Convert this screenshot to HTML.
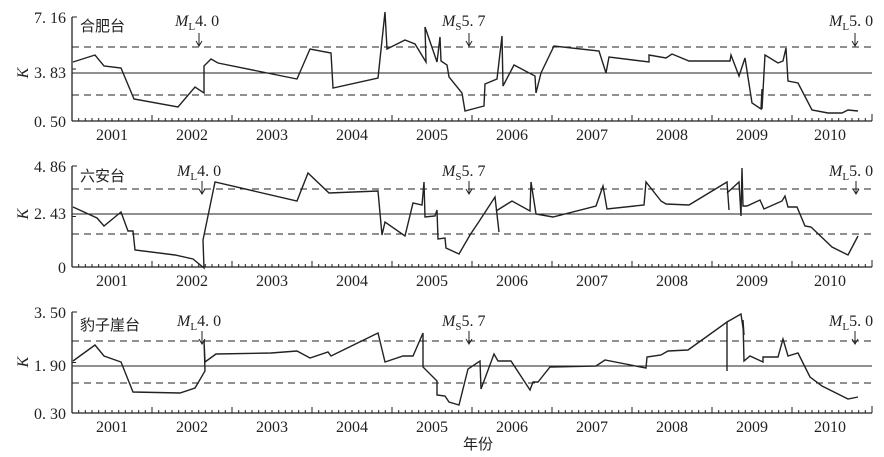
<!DOCTYPE html>
<html><head><meta charset="utf-8"><style>
body{margin:0;background:#fff}
svg{display:block}
text{font-family:"Liberation Serif","Noto Serif CJK SC",serif;fill:#222}
.cn{font-family:"Noto Sans CJK SC",sans-serif;font-size:15px}
.t{font-size:16px}
.y{font-size:16px}
</style></head><body>
<svg width="884" height="457" viewBox="0 0 884 457" xmlns="http://www.w3.org/2000/svg">
<defs>
<g id="ticks">
</g>
</defs>
<g stroke="#222" fill="none" stroke-width="1.3">
<!-- Panel 1 -->
<line x1="72" y1="121" x2="872" y2="121"/><line x1="72" y1="17" x2="72" y2="121"/>
<line x1="72" y1="73" x2="872" y2="73" stroke-width="1"/>
<line x1="72" y1="47" x2="872" y2="47" stroke-dasharray="7,5" stroke-width="1"/>
<line x1="72" y1="95" x2="872" y2="95" stroke-dasharray="7,5" stroke-width="1"/>
<polyline stroke-width="1.4" points="73,62 95,55 104,66 121,68 134,99 178,107 195,87 204,93 204,66 211,59 218,63 297,79 310,49 331,53 333,88 378,78 385,12 387,49 405,40 415,44 426,62 425,27 437,62 440,37 441,61 447,65 449,77 462,93 465,111 484,106 485,84 497,79 502,36 503,86 514,65 535,76 536,93 541,73 554,46 599,51 606,73 609,57 649,62 649,55 666,58 672,54 689,61 730,61 731,55 739,76 745,58 752,103 761,109 762,89 762,109 765,55 778,63 783,61 786,48 788,81 798,83 812,110 828,113 842,113 848,110 858,111"/>
<!-- Panel 2 -->
<line x1="72" y1="267" x2="872" y2="267"/><line x1="72" y1="166" x2="72" y2="267"/>
<line x1="72" y1="214" x2="872" y2="214" stroke-width="1"/>
<line x1="72" y1="189" x2="872" y2="189" stroke-dasharray="7,5" stroke-width="1"/>
<line x1="72" y1="234" x2="872" y2="234" stroke-dasharray="7,5" stroke-width="1"/>
<polyline stroke-width="1.4" points="73,207 97,218 104,226 121,212 128,231 133,231 135,250 175,255 193,259 204,268 203,240 215,182 297,201 308,173 329,193 378,191 382,235 385,222 405,236 413,203 422,205 424,182 425,217 435,216 437,210 438,239 445,238 446,248 459,254 470,235 480,220 495,197 499,232"/>
<polyline stroke-width="1.4" points="496,211 512,201 530,211 531,182 536,214 553,217 596,206 603,186 607,209 644,205 646,182 661,201 666,204 689,205 727,182 729,210"/>
<polyline stroke-width="1.4" points="727,193 739,182 741,216 742,168 743,206 747,206 760,200 764,209 782,201 785,196 788,207 797,207 805,226 811,227 832,247 848,255 858,236"/>
<!-- Panel 3 -->
<line x1="72" y1="413" x2="872" y2="413"/><line x1="72" y1="312" x2="72" y2="413"/>
<line x1="72" y1="366" x2="872" y2="366" stroke-width="1"/>
<line x1="72" y1="341" x2="872" y2="341" stroke-dasharray="7,5" stroke-width="1"/>
<line x1="72" y1="383" x2="872" y2="383" stroke-dasharray="7,5" stroke-width="1"/>
<polyline stroke-width="1.4" points="73,361 95,345 104,356 121,362 133,392 180,393 195,388 205,371 204,340 205,362 216,354 271,353 297,351 310,358 328,352 331,356 378,333 385,362 403,356 413,356 423,333 423,367 437,381 437,395 445,396 449,402 459,405 468,369 480,361 481,389 494,354 498,361 511,361 530,390 533,382 538,382 550,367 596,366 605,360 646,368 647,357 661,355 668,351 688,350 727,322 727,371"/>
<polyline stroke-width="1.4" points="727,322 741,314 744,335 743,320 744,361 750,356 763,362 763,357 778,357 783,339 788,356 798,353 810,377 822,386 848,399 858,397"/>
</g>
<g id="tk" stroke="#222" stroke-width="1"></g>
<g fill="#222" stroke="#222" stroke-width="1">
</g>
<!-- tick marks generated inline -->
<g stroke="#222" stroke-width="1">
<path id="tp" d="
M72,121v-3 M78.6,121v-3 M85.3,121v-3 M92,121v-3 M98.6,121v-3 M105.3,121v-3 M112,121v-3 M118.6,121v-3 M125.3,121v-3 M132,121v-3 M138.6,121v-3 M145.3,121v-3 M152,121v-6
"/>
</g>
<script>
(function(){
 var ns="http://www.w3.org/2000/svg";var svg=document.querySelector('svg');
 [121,267,413].forEach(function(by,pi){
  var tops=[17,166,312][pi];
  var d="";
  for(var i=0;i<=120;i++){var x=72+i*80/12;if(x>872)break;var L=((i%12)==0)&&i>0?6:3;if((i-12*Math.round(i/12))==0&&i>0)L=6;d+="M"+x.toFixed(1)+","+by+"v-"+L+" ";}
  for(var k=0;k<=10;k++){var x2=152+k*80;if(x2<=872)d+="M"+x2+","+by+"v-6 ";}
  d+="M872,"+by+"v-7 M72,"+tops+"h5 M72,"+by+"h5 M72,"+((tops+by)/2)+"h4";
  var p=document.createElementNS(ns,'path');p.setAttribute('d',d);p.setAttribute('stroke','#222');p.setAttribute('fill','none');svg.appendChild(p);
 });
 var t=document.getElementById('tp');t.parentNode.removeChild(t);
})();
</script>
<!-- y labels -->
<g class="y" text-anchor="end">
<text x="66" y="23">7. 16</text><text x="66" y="78">3. 83</text><text x="66" y="127">0. 50</text>
<text x="66" y="172">4. 86</text><text x="66" y="219">2. 43</text><text x="66" y="273">0</text>
<text x="66" y="318">3. 50</text><text x="66" y="371">1. 90</text><text x="66" y="419">0. 30</text>
</g>
<g class="y" font-style="italic">
<text transform="translate(28,73) rotate(-90)" text-anchor="middle" style="font-style:italic">K</text>
<text transform="translate(28,214) rotate(-90)" text-anchor="middle" style="font-style:italic">K</text>
<text transform="translate(28,362) rotate(-90)" text-anchor="middle" style="font-style:italic">K</text>
</g>
<!-- x labels -->
<g class="t" text-anchor="middle">
<g id="xl1">
<text x="112" y="140">2001</text><text x="192" y="140">2002</text><text x="272" y="140">2003</text><text x="352" y="140">2004</text><text x="432" y="140">2005</text><text x="512" y="140">2006</text><text x="592" y="140">2007</text><text x="672" y="140">2008</text><text x="752" y="140">2009</text><text x="830" y="140">2010</text>
</g>
<g transform="translate(0,146)">
<text x="112" y="140">2001</text><text x="192" y="140">2002</text><text x="272" y="140">2003</text><text x="352" y="140">2004</text><text x="432" y="140">2005</text><text x="512" y="140">2006</text><text x="592" y="140">2007</text><text x="672" y="140">2008</text><text x="752" y="140">2009</text><text x="830" y="140">2010</text>
</g>
<g transform="translate(0,292)">
<text x="112" y="140">2001</text><text x="192" y="140">2002</text><text x="272" y="140">2003</text><text x="352" y="140">2004</text><text x="432" y="140">2005</text><text x="512" y="140">2006</text><text x="592" y="140">2007</text><text x="672" y="140">2008</text><text x="752" y="140">2009</text><text x="830" y="140">2010</text>
</g>
</g>
<text class="cn" x="463" y="449">年份</text>
<!-- station names -->
<text class="cn" x="80" y="31">合肥台</text>
<text class="cn" x="80" y="181">六安台</text>
<text class="cn" x="80" y="330">豹子崖台</text>
<!-- event annotations -->
<g font-size="16">
<g>
<text x="175" y="26"><tspan font-style="italic">M</tspan><tspan font-size="11" dy="4">L</tspan><tspan dy="-4">4. 0</tspan></text>
<text x="442" y="26"><tspan font-style="italic">M</tspan><tspan font-size="11" dy="4">S</tspan><tspan dy="-4">5. 7</tspan></text>
<text x="829" y="26"><tspan font-style="italic">M</tspan><tspan font-size="11" dy="4">L</tspan><tspan dy="-4">5. 0</tspan></text>
</g>
<g transform="translate(0,150)">
<text x="177" y="26"><tspan font-style="italic">M</tspan><tspan font-size="11" dy="4">L</tspan><tspan dy="-4">4. 0</tspan></text>
<text x="442" y="26"><tspan font-style="italic">M</tspan><tspan font-size="11" dy="4">S</tspan><tspan dy="-4">5. 7</tspan></text>
<text x="829" y="26"><tspan font-style="italic">M</tspan><tspan font-size="11" dy="4">L</tspan><tspan dy="-4">5. 0</tspan></text>
</g>
<g transform="translate(0,300)">
<text x="177" y="26"><tspan font-style="italic">M</tspan><tspan font-size="11" dy="4">L</tspan><tspan dy="-4">4. 0</tspan></text>
<text x="442" y="26"><tspan font-style="italic">M</tspan><tspan font-size="11" dy="4">S</tspan><tspan dy="-4">5. 7</tspan></text>
<text x="829" y="26"><tspan font-style="italic">M</tspan><tspan font-size="11" dy="4">L</tspan><tspan dy="-4">5. 0</tspan></text>
</g>
</g>
<g stroke="#222" stroke-width="1" fill="none">
<path d="M199,33v12 M196,41l3,5l3,-5 M469,33v12 M466,41l3,5l3,-5 M855,33v12 M852,41l3,5l3,-5"/>
<path d="M202,181v12 M199,189l3,5l3,-5 M469,181v12 M466,189l3,5l3,-5 M856,181v12 M853,189l3,5l3,-5"/>
<path d="M202,331v12 M199,339l3,5l3,-5 M469,331v12 M466,339l3,5l3,-5 M855,331v12 M852,339l3,5l3,-5"/>
</g>
</svg>
</body></html>
